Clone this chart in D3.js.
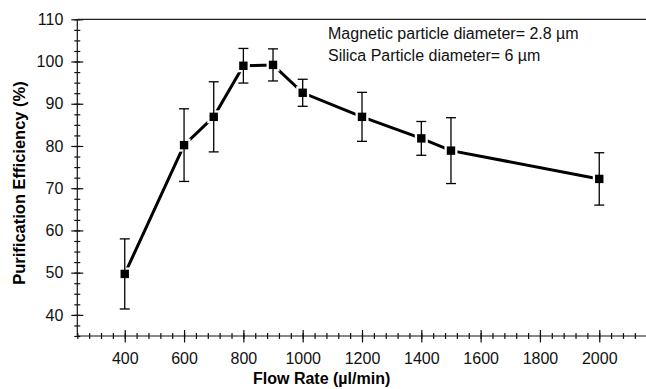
<!DOCTYPE html>
<html>
<head>
<meta charset="utf-8">
<script src="https://cdn.jsdelivr.net/npm/d3@7"></script>
<style>
  body { margin: 0; background: #fff; }
  svg { display: block; font-family: "Liberation Sans", Arial, sans-serif; }
  .axis path, .axis line { stroke: #111; stroke-width: 1.2; }
  .axis text { font-size: 16px; fill: #111; }
</style>
</head>
<body>
<div id="chart"></div>
<script>
// data
var flowRates = [400, 600, 700, 800, 900, 1000, 1200, 1400, 1500, 2000];
var efficiency = [49.7, 80.2, 86.9, 99.0, 99.2, 92.6, 86.9, 81.8, 78.9, 72.2];
var errors = [8.3, 8.6, 8.3, 4.1, 3.8, 3.2, 5.8, 4.0, 7.8, 6.2];
var xTicks = [400, 600, 800, 1000, 1200, 1400, 1600, 1800, 2000];
var yTicks = [40, 50, 60, 70, 80, 90, 100, 110];
var notes = ["Magnetic particle diameter= 2.8 \u00b5m", "Silica Particle diameter= 6 \u00b5m"];

var width = 646, height = 389;

var x = d3.scaleLinear().domain([240, 2160]).range([77.3, 646.7]);
var y = d3.scaleLinear().domain([35, 110]).range([336, 19.3]);

var svg = d3.select("#chart").append("svg")
  .attr("width", width)
  .attr("height", height);

var pts = flowRates.map(function(f, i) {
  return { f: f, v: efficiency[i], e: errors[i] };
});

// minor ticks, both sides of the axis
var xMinor = d3.range(240, 2161, 40);
var yMinor = d3.range(35, 110.1, 2.5);

function crossAxis(g, axisA, axisB) {
  g.append("g").call(axisA).call(function(s) { s.select(".domain").remove(); });
  g.append("g").call(axisB).call(function(s) { s.select(".domain").remove(); });
}

// x axis
var gx = svg.append("g").attr("class", "axis").attr("transform", "translate(0," + y(35) + ")");
crossAxis(gx,
  d3.axisBottom(x).tickValues(xMinor).tickSize(3).tickFormat(""),
  d3.axisTop(x).tickValues(xMinor).tickSize(3).tickFormat(""));
crossAxis(gx,
  d3.axisTop(x).tickValues(xTicks).tickSize(6).tickFormat(""),
  d3.axisBottom(x).tickValues(xTicks).tickSize(6.5).tickPadding(10).tickFormat(d3.format("d")));
gx.append("path").attr("d", "M" + x.range()[0] + ",0H" + x.range()[1]).attr("stroke", "#111").attr("stroke-width", 1.3);

// y axis
var gy = svg.append("g").attr("class", "axis").attr("transform", "translate(" + x(240) + ",0)");
crossAxis(gy,
  d3.axisLeft(y).tickValues(yMinor).tickSize(3).tickFormat(""),
  d3.axisRight(y).tickValues(yMinor).tickSize(3).tickFormat(""));
crossAxis(gy,
  d3.axisRight(y).tickValues(yTicks).tickSize(6).tickFormat(""),
  d3.axisLeft(y).tickValues(yTicks).tickSize(6).tickPadding(8).tickFormat(d3.format("d")));
gy.append("path").attr("d", "M0," + y.range()[0] + "V" + y.range()[1]).attr("stroke", "#111").attr("stroke-width", 1.3);

// top frame line
svg.append("line")
  .attr("x1", x(240)).attr("x2", x(2160))
  .attr("y1", y(110)).attr("y2", y(110))
  .attr("stroke", "#222").attr("stroke-width", 1.3);

// the data line
svg.append("path")
  .datum(pts)
  .attr("fill", "none")
  .attr("stroke", "#000")
  .attr("stroke-width", 3)
  .attr("d", d3.line().x(function(d) { return x(d.f); }).y(function(d) { return y(d.v); }));

// white halo so the line stops short of each marker
svg.selectAll(".halo").data(pts).enter().append("rect")
  .attr("class", "halo")
  .attr("x", function(d) { return x(d.f) - 6.5; })
  .attr("y", function(d) { return y(d.v) - 6.5; })
  .attr("width", 13).attr("height", 13)
  .attr("fill", "#fff");

// error bars
var eb = svg.selectAll(".err").data(pts).enter().append("g").attr("class", "err")
  .attr("stroke", "#000").attr("stroke-width", 1.3);
eb.append("line")
  .attr("x1", function(d) { return x(d.f); }).attr("x2", function(d) { return x(d.f); })
  .attr("y1", function(d) { return y(d.v + d.e); }).attr("y2", function(d) { return y(d.v - d.e); });
eb.append("line")
  .attr("x1", function(d) { return x(d.f) - 5; }).attr("x2", function(d) { return x(d.f) + 5; })
  .attr("y1", function(d) { return y(d.v + d.e); }).attr("y2", function(d) { return y(d.v + d.e); });
eb.append("line")
  .attr("x1", function(d) { return x(d.f) - 5; }).attr("x2", function(d) { return x(d.f) + 5; })
  .attr("y1", function(d) { return y(d.v - d.e); }).attr("y2", function(d) { return y(d.v - d.e); });

// markers
svg.selectAll(".mk").data(pts).enter().append("rect")
  .attr("class", "mk")
  .attr("x", function(d) { return x(d.f) - 4.2; })
  .attr("y", function(d) { return y(d.v) - 4.2; })
  .attr("width", 8.4).attr("height", 8.4)
  .attr("fill", "#000");

// annotation
svg.selectAll(".note").data(notes).enter().append("text")
  .attr("x", 328)
  .attr("y", function(d, i) { return 39 + i * 22; })
  .attr("font-size", 16)
  .attr("fill", "#111")
  .text(function(d) { return d; });

// axis titles
svg.append("text")
  .attr("x", (x(240) + 646) / 2 - 40)
  .attr("y", 384)
  .attr("text-anchor", "middle")
  .attr("font-size", 16)
  .attr("font-weight", "bold")
  .text("Flow Rate (\u00b5l/min)");

svg.append("text")
  .attr("transform", "translate(25," + 183 + ") rotate(-90)")
  .attr("text-anchor", "middle")
  .attr("font-size", 16.5)
  .attr("font-weight", "bold")
  .text("Purification Efficiency (%)");
</script>
</body>
</html>
